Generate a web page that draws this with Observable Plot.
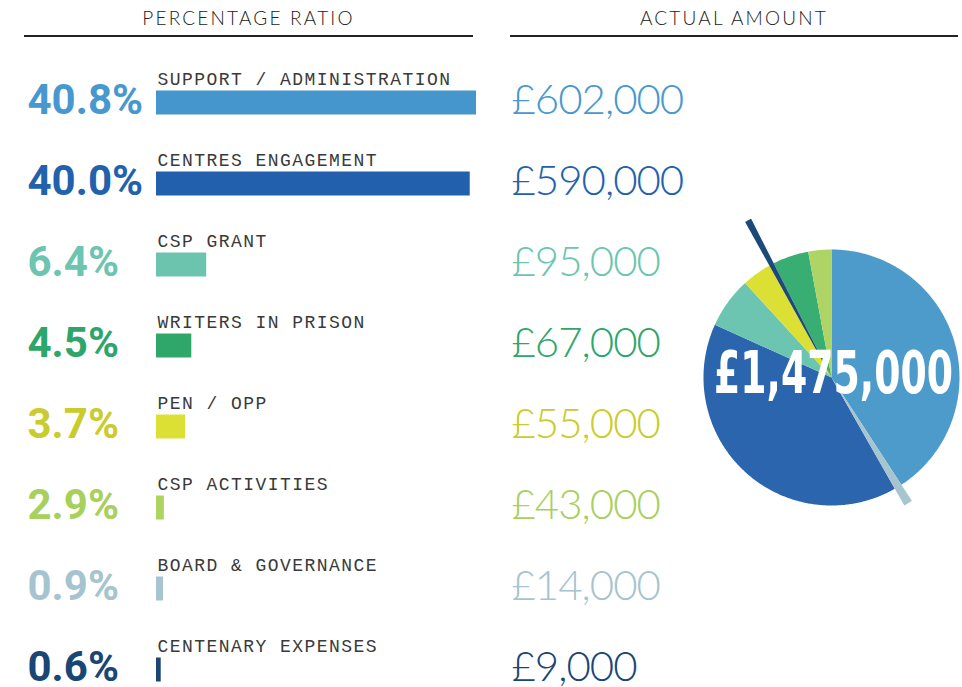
<!DOCTYPE html>
<html><head><meta charset="utf-8">
<script src="https://cdn.jsdelivr.net/npm/d3@7"></script>
<script src="https://cdn.jsdelivr.net/npm/@observablehq/plot@0.6"></script>
<style>
body{margin:0;background:#fff;}
#wrap{position:relative;width:962px;height:687px;overflow:hidden;background:#fff;}
.hdr{position:absolute;top:0;height:35px;border-bottom:2px solid #222;font-family:Lato, sans-serif;font-weight:300;font-size:19px;letter-spacing:2.2px;color:#222;text-align:center;line-height:36px;}
#main{position:absolute;left:0;top:0;width:962px;height:687px;}
#pie{position:absolute;left:681px;top:197px;width:280px;height:360px;}
svg{max-width:none !important;}
</style></head><body>
<div id="wrap">
 <div class="hdr" style="left:24px;width:449px">PERCENTAGE RATIO</div>
 <div class="hdr" style="left:510px;width:448px">ACTUAL AMOUNT</div>
 <div id="main"></div><div id="pie"></div>
</div>
<script>
const categories = ["SUPPORT / ADMINISTRATION", "CENTRES ENGAGEMENT", "CSP GRANT", "WRITERS IN PRISON", "PEN / OPP", "CSP ACTIVITIES", "BOARD & GOVERNANCE", "CENTENARY EXPENSES"];
const percentages = [40.8, 40.0, 6.4, 4.5, 3.7, 2.9, 0.9, 0.6];
// bar lengths as drawn in the picture (the CSP activities bar is drawn at about 1%)
const barLengths = [40.8, 40.0, 6.4, 4.5, 3.7, 1.0, 0.9, 0.6];
const amounts = [602000, 590000, 95000, 67000, 55000, 43000, 14000, 9000];
const barColors = ["#4596cc", "#2260ad", "#6cc4af", "#2fa76b", "#dde034", "#add460", "#a6c5cf", "#1a4676"];
const textColors = ["#4798cf", "#2262ad", "#6cc5b0", "#2ea66b", "#c9cc2c", "#a8d05c", "#a5c4cf", "#1a4676"];
const pieColors = ["#4d9bcb", "#2a65ae", "#6cc5b0", "#38ae72", "#dde034", "#afd466", "#a6c5cf", "#1b4a78"];
// clockwise order of slices from 12 o'clock
const pieOrder = ["SUPPORT / ADMINISTRATION", "BOARD & GOVERNANCE", "CENTRES ENGAGEMENT", "CSP GRANT", "PEN / OPP", "CENTENARY EXPENSES", "WRITERS IN PRISON", "CSP ACTIVITIES"];
const pieRadius = {"BOARD & GOVERNANCE": 1.15, "CENTENARY EXPENSES": 1.39};

const rows = categories.map((c, i) => ({cat: c, pct: percentages[i], len: barLengths[i], amt: amounts[i], bar: barColors[i], txt: textColors[i]}));

const main = Plot.plot({
  width: 962, height: 687, margin: 0,
  style: {background: "transparent", overflow: "visible"},
  x: {domain: [0, 40.8], range: [156, 476], axis: null},
  y: {type: "band", domain: categories, range: [61.5, 709.5], padding: 0, axis: null},
  marks: [
    Plot.barX(rows, {x: "len", y: "cat", fill: d => d.bar, insetTop: 28.5, insetBottom: 28.5}),
    Plot.text(rows, {x: 0, y: "cat", text: "cat", textAnchor: "start", lineAnchor: "bottom", dx: 1, dy: -18,
      fontFamily: "'Courier New', 'Liberation Mono', monospace", fontSize: 18, fill: "#3a3a3a"}),
    Plot.text(rows, {x: 0, y: "cat", text: d => d.pct.toFixed(1) + "%", fill: d => d.txt, textAnchor: "start", lineAnchor: "middle",
      dx: -129, dy: -2.5, fontFamily: "Roboto, sans-serif", fontWeight: 700, fontSize: 42}),
    Plot.text(rows, {x: 0, y: "cat", text: d => "£" + d3.format(",")(d.amt), fill: d => d.txt, textAnchor: "start", lineAnchor: "middle",
      dx: 355, dy: -2.5, fontFamily: "Lato, sans-serif", fontWeight: 300, fontSize: 42})
  ]
});
document.getElementById("main").append(main);
const textGroups = main.querySelectorAll('g[aria-label="text"]');
textGroups[0].style.letterSpacing = "1.45px";
textGroups[1].style.letterSpacing = "0px";
textGroups[2].style.letterSpacing = "-1px";

// pie polygons built from the amounts
const total = d3.sum(amounts);
let acc = 0;
const piePts = [];
pieOrder.forEach(name => {
  const i = categories.indexOf(name);
  const a0 = acc / total * 2 * Math.PI;
  acc += amounts[i];
  const a1 = acc / total * 2 * Math.PI;
  const r = pieRadius[name] || 1;
  const col = pieColors[i];
  const top = !!pieRadius[name];
  piePts.push({name, x: 0, y: 0, col, top});
  const n = Math.max(2, Math.ceil((a1 - a0) / 0.01));
  for (let k = 0; k <= n; k++) {
    const a = a0 + (a1 - a0) * k / n;
    piePts.push({name, x: r * Math.sin(a), y: r * Math.cos(a), col, top});
  }
});
const R = 128;
const pie = Plot.plot({
  width: 280, height: 360, margin: 0,
  style: {background: "transparent", overflow: "visible"},
  x: {domain: [-150 / R, 130 / R], axis: null},
  y: {domain: [-180 / R, 180 / R], axis: null},
  marks: [
    Plot.line(piePts.filter(d => !d.top), {x: "x", y: "y", z: "name", fill: "col", stroke: null}),
    Plot.line(piePts.filter(d => d.top), {x: "x", y: "y", z: "name", fill: "col", stroke: null}),
    Plot.text([total], {x: 0, y: 0, text: d => "£" + d3.format(",")(d), fill: "white", textAnchor: "middle",
      lineAnchor: "middle", dx: 2, dy: -3, fontFamily: "'Liberation Sans Narrow', 'DejaVu Sans Condensed', sans-serif",
      fontWeight: 700, fontSize: 58})
  ]
});
document.getElementById("pie").append(pie);
d3.select(pie).selectAll('g[aria-label="text"] text').attr("textLength", 239).attr("lengthAdjust", "spacingAndGlyphs");
</script>
</body></html>
